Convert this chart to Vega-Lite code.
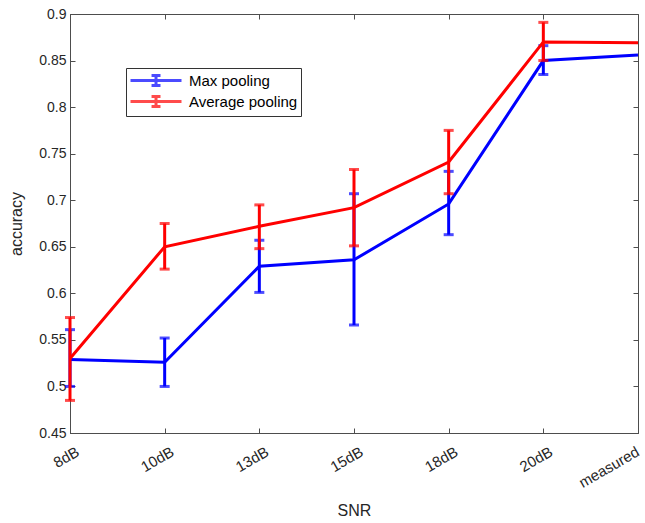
{
  "$schema": "https://vega.github.io/schema/vega-lite/v6.json",
  "width": 568,
  "height": 419,
  "autosize": "none",
  "padding": {"left": 70, "top": 14, "right": 7, "bottom": 90},
  "background": "white",
  "config": {
    "font": "Liberation Sans",
    "view": {"stroke": "#4d4d4d", "strokeWidth": 1},
    "axis": {
      "domainColor": "#4d4d4d",
      "tickColor": "#4d4d4d",
      "labelColor": "#262626",
      "titleColor": "#262626",
      "labelFontSize": 14,
      "titleFontSize": 16,
      "titleFontWeight": "normal",
      "grid": false,
      "tickSize": -5
    }
  },
  "data": {
    "values": [
      {"snr": "8dB", "method": "Max pooling", "acc": 0.529, "lo": 0.500, "hi": 0.561},
      {"snr": "10dB", "method": "Max pooling", "acc": 0.526, "lo": 0.500, "hi": 0.552},
      {"snr": "13dB", "method": "Max pooling", "acc": 0.629, "lo": 0.601, "hi": 0.657},
      {"snr": "15dB", "method": "Max pooling", "acc": 0.636, "lo": 0.566, "hi": 0.707},
      {"snr": "18dB", "method": "Max pooling", "acc": 0.696, "lo": 0.663, "hi": 0.731},
      {"snr": "20dB", "method": "Max pooling", "acc": 0.850, "lo": 0.835, "hi": 0.866},
      {"snr": "measured", "method": "Max pooling", "acc": 0.856},
      {"snr": "8dB", "method": "Average pooling", "acc": 0.530, "lo": 0.485, "hi": 0.574},
      {"snr": "10dB", "method": "Average pooling", "acc": 0.650, "lo": 0.626, "hi": 0.675},
      {"snr": "13dB", "method": "Average pooling", "acc": 0.672, "lo": 0.648, "hi": 0.695},
      {"snr": "15dB", "method": "Average pooling", "acc": 0.692, "lo": 0.651, "hi": 0.733},
      {"snr": "18dB", "method": "Average pooling", "acc": 0.741, "lo": 0.707, "hi": 0.775},
      {"snr": "20dB", "method": "Average pooling", "acc": 0.870, "lo": 0.850, "hi": 0.891},
      {"snr": "measured", "method": "Average pooling", "acc": 0.869}
    ]
  },
  "resolve": {"axis": {"x": "independent", "y": "independent"}},
  "layer": [
    {
      "mark": {"type": "point", "opacity": 0},
      "encoding": {
        "x": {"field": "snr", "type": "ordinal", "scale": {"type": "point", "padding": 0, "domain": ["8dB", "10dB", "13dB", "15dB", "18dB", "20dB", "measured"]},
              "axis": {"orient": "bottom", "title": "SNR", "labelAngle": -30, "labelAlign": "right", "labelBaseline": "top", "labelFontSize": 15, "labelPadding": 16, "labelOffset": {"condition": {"test": "datum.value === 'measured'", "value": -4}, "value": 4}, "titlePadding": 12}},
        "y": {"field": "acc", "type": "quantitative", "scale": {"domain": [0.45, 0.9], "nice": false, "zero": false},
              "axis": {"orient": "left", "title": "accuracy", "values": [0.45, 0.5, 0.55, 0.6, 0.65, 0.7, 0.75, 0.8, 0.85, 0.9], "format": ".2~f", "labelPadding": 9, "titlePadding": 14}}
      }
    },
    {
      "mark": {"type": "point", "opacity": 0},
      "encoding": {
        "x": {"field": "snr", "type": "ordinal", "scale": {"type": "point", "padding": 0, "domain": ["8dB", "10dB", "13dB", "15dB", "18dB", "20dB", "measured"]},
              "axis": {"orient": "top", "title": null, "labels": false, "domain": false}},
        "y": {"field": "acc", "type": "quantitative", "scale": {"domain": [0.45, 0.9], "nice": false, "zero": false},
              "axis": {"orient": "right", "title": null, "labels": false, "domain": false, "values": [0.45, 0.5, 0.55, 0.6, 0.65, 0.7, 0.75, 0.8, 0.85, 0.9]}}
      }
    },
    {
      "transform": [{"filter": "datum.method === 'Max pooling'"}],
      "encoding": {
        "x": {"field": "snr", "type": "ordinal", "scale": {"type": "point", "padding": 0, "domain": ["8dB", "10dB", "13dB", "15dB", "18dB", "20dB", "measured"]}, "axis": null},
        "color": {"field": "method", "type": "nominal", "scale": {"domain": ["Max pooling", "Average pooling"], "range": ["#0000ff", "#ff0000"]},
                  "legend": {"title": null, "orient": "none", "legendX": 56, "legendY": 54, "symbolType": "M-1,0H5.375M2.19,-0.625V0.625M1.63,-0.625H2.75M1.63,0.625H2.75", "symbolSize": 256, "symbolStrokeWidth": 3, "labelOffset": 41, "labelFontSize": 15, "labelColor": "#000000", "padding": 3, "rowPadding": -4, "strokeColor": "#333333", "fillColor": "white"}}
      },
      "layer": [
        {"mark": {"type": "line", "strokeWidth": 3}, "encoding": {"y": {"field": "acc", "type": "quantitative", "scale": {"domain": [0.45, 0.9], "nice": false, "zero": false}, "axis": null}}},
        {"transform": [{"filter": "isValid(datum.lo)"}], "mark": {"type": "rule", "strokeWidth": 3}, "encoding": {"y": {"field": "lo", "type": "quantitative", "scale": {"domain": [0.45, 0.9], "nice": false, "zero": false}, "axis": null}, "y2": {"field": "hi"}}},
        {"transform": [{"filter": "isValid(datum.lo)"}], "mark": {"type": "tick", "size": 10, "thickness": 3}, "encoding": {"y": {"field": "lo", "type": "quantitative", "scale": {"domain": [0.45, 0.9], "nice": false, "zero": false}, "axis": null}}},
        {"transform": [{"filter": "isValid(datum.hi)"}], "mark": {"type": "tick", "size": 10, "thickness": 3}, "encoding": {"y": {"field": "hi", "type": "quantitative", "scale": {"domain": [0.45, 0.9], "nice": false, "zero": false}, "axis": null}}}
      ]
    },
    {
      "transform": [{"filter": "datum.method === 'Average pooling'"}],
      "encoding": {
        "x": {"field": "snr", "type": "ordinal", "scale": {"type": "point", "padding": 0, "domain": ["8dB", "10dB", "13dB", "15dB", "18dB", "20dB", "measured"]}, "axis": null},
        "color": {"field": "method", "type": "nominal", "scale": {"domain": ["Max pooling", "Average pooling"], "range": ["#0000ff", "#ff0000"]}}
      },
      "layer": [
        {"mark": {"type": "line", "strokeWidth": 3}, "encoding": {"y": {"field": "acc", "type": "quantitative", "scale": {"domain": [0.45, 0.9], "nice": false, "zero": false}, "axis": null}}},
        {"transform": [{"filter": "isValid(datum.lo)"}], "mark": {"type": "rule", "strokeWidth": 3}, "encoding": {"y": {"field": "lo", "type": "quantitative", "scale": {"domain": [0.45, 0.9], "nice": false, "zero": false}, "axis": null}, "y2": {"field": "hi"}}},
        {"transform": [{"filter": "isValid(datum.lo)"}], "mark": {"type": "tick", "size": 10, "thickness": 3}, "encoding": {"y": {"field": "lo", "type": "quantitative", "scale": {"domain": [0.45, 0.9], "nice": false, "zero": false}, "axis": null}}},
        {"transform": [{"filter": "isValid(datum.hi)"}], "mark": {"type": "tick", "size": 10, "thickness": 3}, "encoding": {"y": {"field": "hi", "type": "quantitative", "scale": {"domain": [0.45, 0.9], "nice": false, "zero": false}, "axis": null}}}
      ]
    }
  ]
}
